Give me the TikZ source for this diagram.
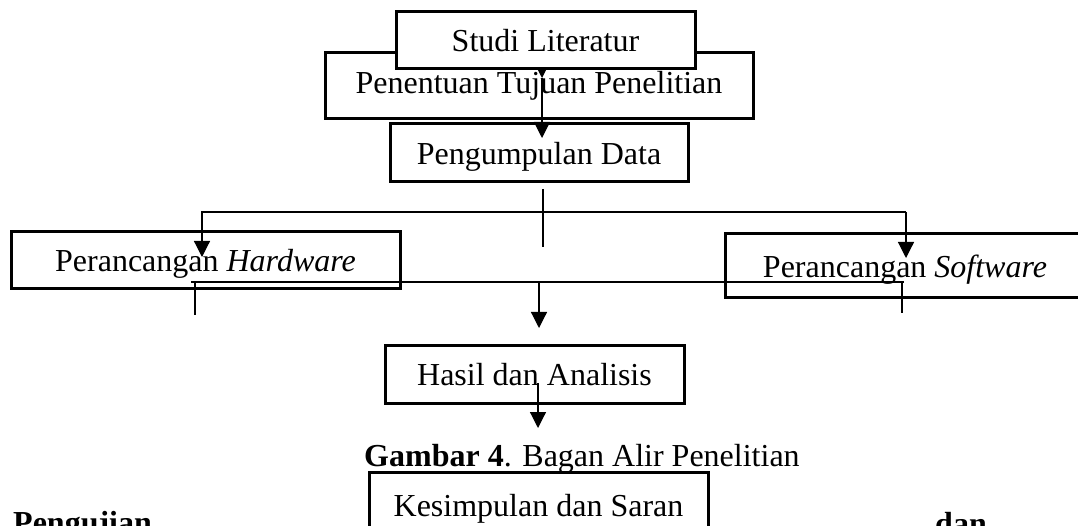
\documentclass[tikz,border=0pt]{standalone}
\usepackage{fontspec}
\setmainfont{Liberation Serif}
\usetikzlibrary{arrows.meta,backgrounds}
\tikzset{
  box/.style={draw=black,line width=3pt,fill=white,inner sep=0pt,align=center,
    text depth=0pt,font=\fontsize{32}{38}\selectfont},
  link/.style={draw=black,line width=1.2pt},
  arrow/.style={link,-{Triangle[width=16pt,length=16pt]}},
  plain/.style={inner sep=0pt,font=\fontsize{32}{38}\selectfont}
}

\begin{document}
\begin{tikzpicture}[x=1pt,y=-1pt]
  \useasboundingbox (0,0) rectangle (1078,526);

  % boxes
  \node[box,minimum width=299pt,minimum height=57pt] (studi) at (545.5,40.5) {Studi Literatur};
  \node[box,minimum width=298pt,minimum height=58pt] (kumpul) at (539,153) {Pengumpulan Data};
  \node[box,minimum width=389pt,minimum height=57pt] (hardware) at (205.5,260.5) {Perancangan \textit{Hardware}};
  \node[box,minimum width=360pt,minimum height=64pt] (software) at (905,266) {Perancangan \textit{Software}};
  \node[box,minimum width=299pt,minimum height=58pt] (hasil) at (534.5,374) {Hasil dan Analisis};
  \node[box,minimum width=339pt,minimum height=66pt] (simpul) at (538.5,505) {Kesimpulan dan Saran};

  \coordinate (t1) at (542,78);
  \coordinate (t2) at (542,138);
  \begin{scope}[on background layer]
    \node[box,text depth=7pt,minimum width=428pt,minimum height=66pt] (tujuan) at (539,86) {Penentuan Tujuan Penelitian};
    \draw[arrow] (studi.center -| t1) -- (t1);
  \end{scope}
  \draw[arrow] (t1) -- (t2);

  % split to hardware and software
  \coordinate (forkTop) at (543,189);
  \coordinate (forkBot) at (543,247);
  \coordinate (forkL) at (202,212);
  \coordinate (forkR) at (906,212);
  \coordinate (hwTip) at (202,257);
  \coordinate (swTip) at (906,258);
  \draw[link] (forkTop) -- (forkBot);
  \draw[arrow] (forkR) -- (forkL) -- (hwTip);
  \draw[arrow] (forkR) -- (swTip);

  % join to hasil
  \coordinate (joinL) at (191,282);
  \coordinate (joinR) at (904,282);
  \coordinate (legL) at (195,315);
  \coordinate (legR) at (902,313);
  \coordinate (joinTip) at (539,328);
  \draw[link] (joinL) -- (joinR);
  \draw[link] (legL |- joinL) -- (legL);
  \draw[link] (legR |- joinR) -- (legR);
  \draw[arrow] (joinTip |- joinL) -- (joinTip);

  \coordinate (hasilOut) at (538,383);
  \coordinate (hasilTip) at (538,428);
  \draw[arrow] (hasilOut) -- (hasilTip);

  % caption and cut-off text
  \node[plain,anchor=base west] (caption) at (364,466) {\textbf{Gambar 4}. Bagan Alir Penelitian};
  \node[plain,anchor=base west] (uji) at (13,533) {\textbf{Pengujian}};
  \node[plain,anchor=base west] (dan) at (935,534) {\textbf{dan}};
\end{tikzpicture}
\end{document}
